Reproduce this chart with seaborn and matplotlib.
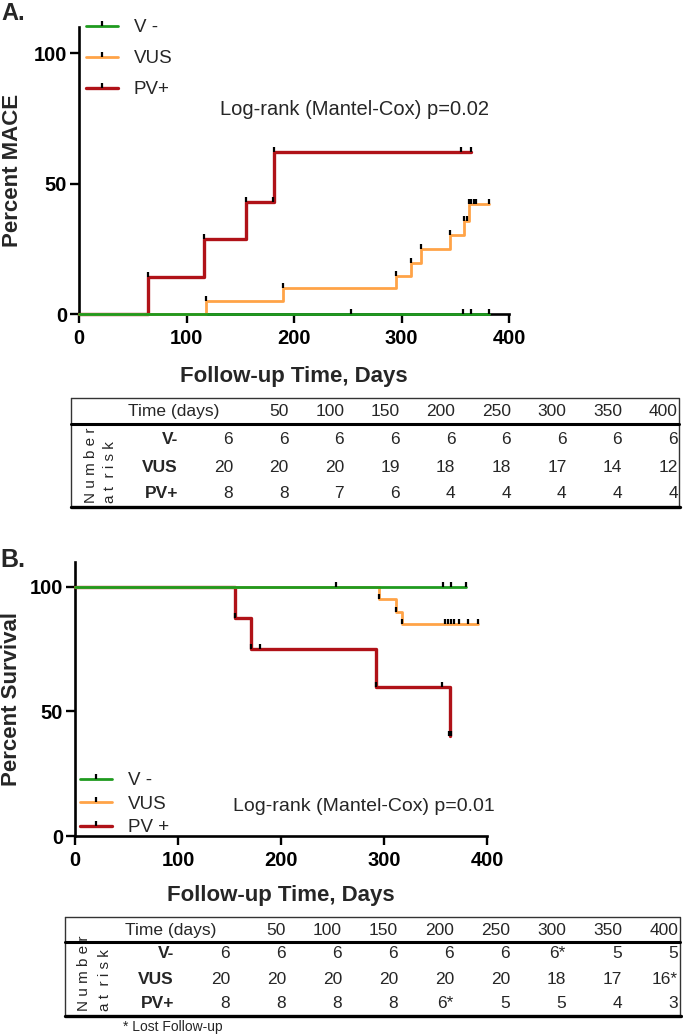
import matplotlib
matplotlib.use("Agg")
import matplotlib.pyplot as plt
import pandas as pd
import seaborn as sns
from matplotlib import font_manager
from matplotlib.lines import Line2D
from matplotlib.path import Path

# ---- Panel A: cumulative MACE (days, percent) ----
a_vneg_t = [0, 381]
a_vneg_p = [0, 0]
a_vus_t = [0, 118, 190, 295, 309, 318, 345, 358, 363, 381]
a_vus_p = [0, 5, 10, 14.7, 19.7, 24.9, 30.1, 35.5, 42, 42]
a_pv_t = [0, 64, 116, 155, 181, 365]
a_pv_p = [0, 14.3, 28.6, 42.9, 62, 62]

# censor marks
a_vneg_ct = [253, 357, 365, 381]
a_vneg_cp = [0, 0, 0, 0]
a_vus_ct = [118, 190, 295, 309, 318, 345, 358, 361, 363, 365, 367, 369, 381]
a_vus_cp = [5, 10, 14.7, 19.7, 24.9, 30.1, 35.5, 35.5, 42, 42, 42, 42, 42]
a_pv_ct = [64, 116, 155, 180, 181, 355, 365]
a_pv_cp = [14.3, 28.6, 42.9, 42.9, 62, 62, 62]

# ---- Panel B: survival ----
b_vneg_t = [0, 380]
b_vneg_p = [100, 100]
b_vus_t = [0, 295, 312, 317, 391]
b_vus_p = [100, 95, 90, 85, 85]
b_pv_t = [0, 155, 171, 292, 364]
b_pv_p = [100, 87.5, 75, 60, 40]

b_vneg_ct = [253, 357, 365, 380]
b_vneg_cp = [100, 100, 100, 100]
b_vus_ct = [295, 312, 317, 359, 362, 365, 368, 373, 382, 391]
b_vus_cp = [95, 90, 85, 85, 85, 85, 85, 85, 85, 85]
b_pv_ct = [155, 171, 180, 292, 356, 363, 364, 365]
b_pv_cp = [87.5, 75, 75, 60, 60, 40, 40, 40]

# ---- number at risk tables ----
time_labels = ["", "50", "100", "150", "200", "250", "300", "350", "400"]
risk_a_vneg = ["6", "6", "6", "6", "6", "6", "6", "6", "6"]
risk_a_vus = ["20", "20", "20", "19", "18", "18", "17", "14", "12"]
risk_a_pv = ["8", "8", "7", "6", "4", "4", "4", "4", "4"]
risk_b_vneg = ["6", "6", "6", "6", "6", "6", "6*", "5", "5"]
risk_b_vus = ["20", "20", "20", "20", "20", "20", "18", "17", "16*"]
risk_b_pv = ["8", "8", "8", "8", "6*", "5", "5", "4", "3"]

colors = {"V -": "#1f9a1f", "VUS": "#ffa347", "PV+": "#b01218"}
widths = {"V -": 2.0, "VUS": 2.0, "PV+": 2.4}

sns.set_style("ticks")
plt.rcParams["font.family"] = ["Liberation Sans", "DejaVu Sans"]
available = {f.name for f in font_manager.fontManager.ttflist}
narrow = "Liberation Sans Narrow" if "Liberation Sans Narrow" in available else "Liberation Sans"

W, H = 683, 1036
fig = plt.figure(figsize=(W / 100, H / 100), dpi=100)


def px_axes(left, top, right, bottom):
    return fig.add_axes([left / W, 1 - bottom / H, (right - left) / W, (bottom - top) / H])


tick = Path([(0, 0), (0, 1)], [Path.MOVETO, Path.LINETO])


def draw_km(ax, curves):
    for name, t, p, ct, cp in curves:
        df = pd.DataFrame({"time": t, "pct": p})
        sns.lineplot(data=df, x="time", y="pct", ax=ax, color=colors[name], lw=widths[name],
                     drawstyle="steps-post", estimator=None, sort=False, legend=False,
                     clip_on=False, zorder=3)
        ax.plot(ct, cp, ls="none", marker=tick, ms=7, mec="black", mew=1.6,
                clip_on=False, zorder=4)


def style_axes(ax, ylabel):
    ax.set_xlim(0, 400)
    ax.set_ylim(0, 110)
    ax.set_xticks([0, 100, 200, 300, 400])
    ax.set_yticks([0, 50, 100])
    sns.despine(ax=ax)
    for s in ("left", "bottom"):
        ax.spines[s].set_linewidth(1.9)
        ax.spines[s].set_color("black")
    ax.tick_params(width=1.7, length=6.5, labelsize=14.5, colors="black")
    ax.tick_params(axis="x", pad=4)
    ax.tick_params(axis="y", pad=2)
    for lab in ax.get_xticklabels() + ax.get_yticklabels():
        lab.set_fontweight("bold")
    ax.set_xlabel("Follow-up Time, Days", fontsize=16, fontweight="bold")
    ax.set_ylabel(ylabel, fontsize=16, fontweight="bold")
    ax.yaxis.set_label_coords(-0.155, 0.5)
    ax.yaxis.label.set_va("center")
    ax.xaxis.set_label_coords(0.5, -0.217)
    ax.xaxis.label.set_va("center")
    ax.set_facecolor("none")


def legend_handles(labels):
    keys = ["V -", "VUS", "PV+"]
    return [Line2D([], [], color=colors[k], lw=widths[k], marker=tick, ms=7, mec="black",
                   mew=1.6) for k in keys], labels


# ---- panel A ----
ax_a = px_axes(79, 27, 509, 314)
draw_km(ax_a, [("PV+", a_pv_t, a_pv_p, a_pv_ct, a_pv_cp),
               ("VUS", a_vus_t, a_vus_p, a_vus_ct, a_vus_cp),
               ("V -", a_vneg_t, a_vneg_p, a_vneg_ct, a_vneg_cp)])
style_axes(ax_a, "Percent MACE")
ax_a.text(131, 78.5, "Log-rank (Mantel-Cox) p=0.02", fontsize=14.5, va="center", ha="left")
h, l = legend_handles(["V -", "VUS", "PV+"])
ax_a.legend(h, l, loc="upper left", bbox_to_anchor=(86 / W, 1 - 19 / H), bbox_transform=fig.transFigure,
            frameon=False, fontsize=13.5, handlelength=1.7, handletextpad=0.85, labelspacing=0.75,
            borderpad=0, borderaxespad=0)

# ---- panel B ----
ax_b = px_axes(75, 562, 487, 836)
draw_km(ax_b, [("PV+", b_pv_t, b_pv_p, b_pv_ct, b_pv_cp),
               ("VUS", b_vus_t, b_vus_p, b_vus_ct, b_vus_cp),
               ("V -", b_vneg_t, b_vneg_p, b_vneg_ct, b_vneg_cp)])
style_axes(ax_b, "Percent Survival")
ax_b.text(153, 11.8, "Log-rank (Mantel-Cox) p=0.01", fontsize=14, va="center", ha="left")
h, l = legend_handles(["V -", "VUS", "PV +"])
ax_b.legend(h, l, loc="upper left", bbox_to_anchor=(80 / W, 1 - 772 / H), bbox_transform=fig.transFigure,
            frameon=False, fontsize=13.5, handlelength=1.7, handletextpad=0.85, labelspacing=0.35,
            borderpad=0, borderaxespad=0)

fig.text(1 / W, 1 - 2 / H, "A.", fontsize=17, fontweight="bold", va="top", ha="left")
fig.text(0, 1 - 548 / H, "B.", fontsize=18, fontweight="bold", va="top", ha="left")

# ---- number at risk tables (overlay in pixel coordinates) ----
ov = fig.add_axes([0, 0, 1, 1])
ov.set_xlim(0, W)
ov.set_ylim(H, 0)
ov.axis("off")


def draw_table(box, sep_y, head_y, rows_y, col0, step, label_x, time_x, nar_x, nar_bottom, rows):
    left, top, right, bottom = box
    ov.plot([left, right, right], [top, top, bottom], color="#333333", lw=1.0)
    ov.plot([left, left], [top, bottom], color="#333333", lw=1.0)
    ov.plot([left, right], [sep_y, sep_y], color="black", lw=2.2)
    ov.plot([left, right + 1], [bottom, bottom], color="black", lw=2.4)
    ov.text(time_x, head_y, "Time (days)", family=narrow, fontsize=12.5, ha="left", va="center")
    for i, lab in enumerate(time_labels):
        ov.text(col0 + step * i, head_y, lab, family=narrow, fontsize=12.5, ha="right", va="center")
    for (name, vals), y in zip(rows, rows_y):
        ov.text(label_x, y, name, family=narrow, fontsize=12.5, fontweight="bold", ha="right", va="center")
        for i, v in enumerate(vals):
            ov.text(col0 + step * i, y, v, family=narrow, fontsize=12.5, ha="right", va="center")
    ov.text(nar_x[0], nar_bottom, "N u m b e r", fontsize=11, rotation=90, ha="center", va="bottom")
    ov.text(nar_x[1], nar_bottom, "a t  r i s k", fontsize=11, rotation=90, ha="center", va="bottom")


draw_table((70.7, 398.3, 679, 507), 424, 411.7, [440, 467, 493], 233, 55.6, 178, 128,
           (91, 110), 503,
           [("V-", risk_a_vneg), ("VUS", risk_a_vus), ("PV+", risk_a_pv)])
draw_table((65, 916.7, 680, 1015.7), 941.7, 930.7, [953, 979, 1003], 230, 56, 174, 125,
           (84, 105), 1011,
           [("V-", risk_b_vneg), ("VUS", risk_b_vus), ("PV+", risk_b_pv)])
ov.text(123, 1027, "* Lost Follow-up", family=narrow, fontsize=10, ha="left", va="center")

fig.savefig("out.png", dpi=100)
